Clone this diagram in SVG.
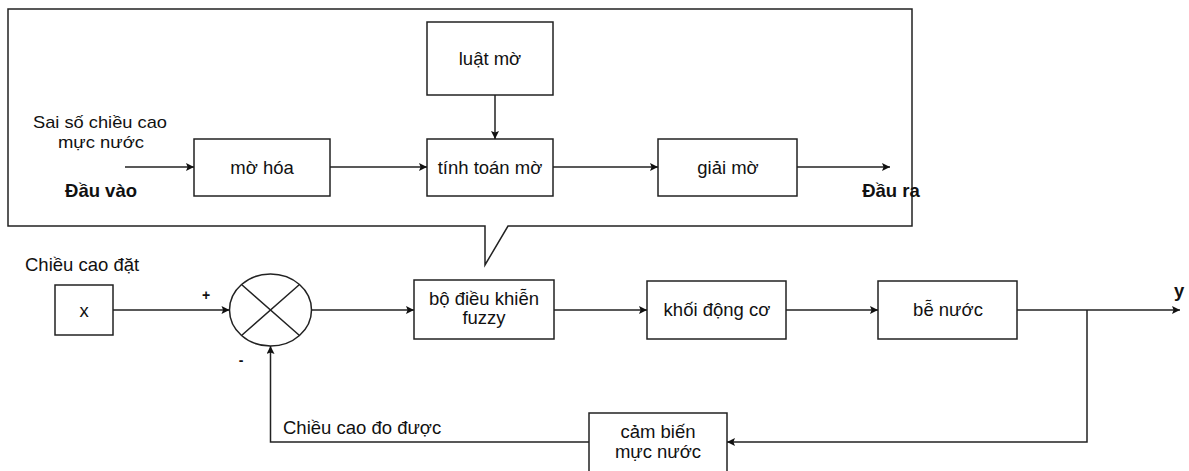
<svg xmlns="http://www.w3.org/2000/svg" width="1189" height="471" viewBox="0 0 1189 471">
  <defs>
    <marker id="arr" viewBox="0 0 10 10" refX="10" refY="5" markerWidth="9" markerHeight="8" markerUnits="userSpaceOnUse" orient="auto">
      <path d="M0,0 L10,5 L0,10 L2,5 Z" fill="#111"/>
    </marker>
  </defs>
  <style>
    .box { fill: #fff; stroke: #222; stroke-width: 1.5; }
    .ln { fill: none; stroke: #222; stroke-width: 1.5; }
    .t { font-family: "Liberation Sans", Arial, sans-serif; font-size: 18.5px; fill: #111; }
    .s { font-size: 17px; }
    .c { text-anchor: middle; }
    .b { font-weight: bold; }
  </style>
  <rect width="1189" height="471" fill="#fff"/>

  <!-- callout frame showing the inside of the fuzzy controller -->
  <g id="callout">
    <path class="box" d="M8,9 H912 V226 H508 L485,265 L485,226 H8 Z"/>
  </g>

  <g id="luat-mo">
    <rect class="box" x="427" y="22" width="126" height="73"/>
    <text class="t c" x="490" y="65">luật mờ</text>
  </g>
  <g id="mo-hoa">
    <rect class="box" x="194" y="139" width="136" height="57"/>
    <text class="t c" x="262" y="174">mờ hóa</text>
  </g>
  <g id="tinh-toan-mo">
    <rect class="box" x="427" y="139" width="126" height="57"/>
    <text class="t c" x="490" y="174">tính toán mờ</text>
  </g>
  <g id="giai-mo">
    <rect class="box" x="658" y="139" width="139" height="57"/>
    <text class="t c" x="728" y="174">giải mờ</text>
  </g>
  <g id="input-label">
    <text class="t s c" x="100" y="128" textLength="134" lengthAdjust="spacingAndGlyphs">Sai số chiều cao</text>
    <text class="t s c" x="101" y="148" textLength="86" lengthAdjust="spacingAndGlyphs">mực nước</text>
    <text class="t c b" x="101" y="197">Đầu vào</text>
  </g>
  <g id="output-label">
    <text class="t c b" x="891" y="197">Đầu ra</text>
  </g>

  <!-- main loop -->
  <g id="setpoint-label">
    <text class="t" x="25" y="271">Chiều cao đặt</text>
  </g>
  <g id="x-block">
    <rect class="box" x="55" y="285" width="58" height="50"/>
    <text class="t c" x="84" y="317">x</text>
  </g>
  <g id="sum">
    <ellipse class="box" cx="270.5" cy="310" rx="41" ry="36"/>
    <path class="ln" d="M241.5,284.5 L299.5,335.5 M299.5,284.5 L241.5,335.5"/>
    <text class="t c b" x="206" y="300" style="font-size:14px">+</text>
    <text class="t c b" x="241" y="365" style="font-size:14px">-</text>
  </g>
  <g id="fuzzy">
    <rect class="box" x="414" y="280" width="140" height="59"/>
    <text class="t c" x="484" y="305">bộ điều khiễn</text>
    <text class="t c" x="484" y="324">fuzzy</text>
  </g>
  <g id="dong-co">
    <rect class="box" x="647" y="281" width="139" height="58"/>
    <text class="t c" x="717" y="316">khối động cơ</text>
  </g>
  <g id="be-nuoc">
    <rect class="box" x="878" y="281" width="139" height="58"/>
    <text class="t c" x="948" y="316">bễ nước</text>
  </g>
  <g id="y-label">
    <text class="t b" x="1174" y="297">y</text>
  </g>
  <g id="cam-bien">
    <rect class="box" x="589" y="413" width="138" height="64"/>
    <text class="t c" x="658" y="438">cảm biến</text>
    <text class="t c" x="658" y="458">mực nước</text>
  </g>
  <g id="feedback-label">
    <text class="t" x="283" y="434">Chiều cao đo được</text>
  </g>

  <g id="connectors">
    <line class="ln" x1="125" y1="167" x2="194" y2="167" marker-end="url(#arr)"/>
    <line class="ln" x1="330" y1="167" x2="427" y2="167" marker-end="url(#arr)"/>
    <line class="ln" x1="495" y1="95" x2="495" y2="139" marker-end="url(#arr)"/>
    <line class="ln" x1="553" y1="167" x2="658" y2="167" marker-end="url(#arr)"/>
    <line class="ln" x1="797" y1="167" x2="890" y2="167" marker-end="url(#arr)"/>

    <line class="ln" x1="113" y1="310" x2="229.5" y2="310" marker-end="url(#arr)"/>
    <line class="ln" x1="311.5" y1="310" x2="414" y2="310" marker-end="url(#arr)"/>
    <line class="ln" x1="554" y1="310" x2="647" y2="310" marker-end="url(#arr)"/>
    <line class="ln" x1="786" y1="310" x2="878" y2="310" marker-end="url(#arr)"/>
    <line class="ln" x1="1017" y1="310" x2="1180" y2="310" marker-end="url(#arr)"/>
    <polyline class="ln" points="1087,310 1087,442 727,442" marker-end="url(#arr)"/>
    <polyline class="ln" points="589,442 270.5,442 270.5,346" marker-end="url(#arr)"/>
  </g>
</svg>
